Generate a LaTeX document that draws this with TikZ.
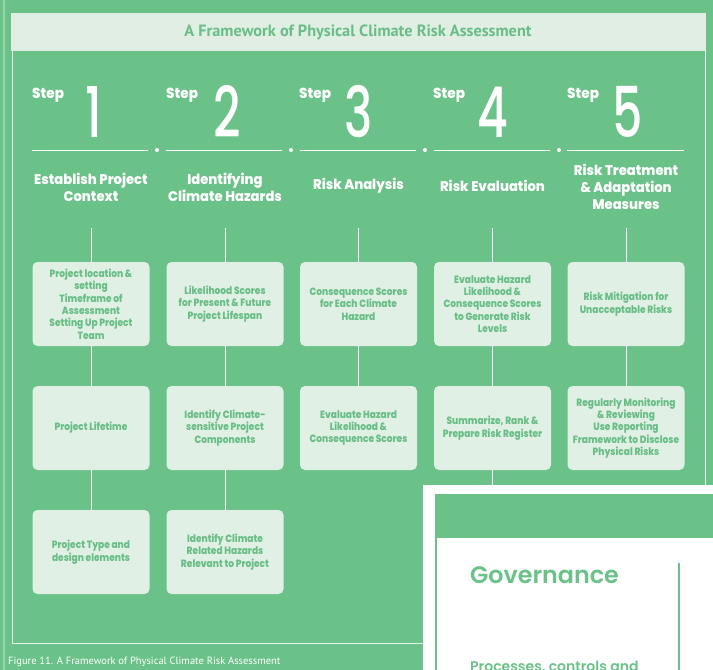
\documentclass[tikz,border=0pt]{standalone}
\usepackage{fontspec}
\setmainfont{Poppins}
\newfontfamily\heavyfont{Poppins ExtraBold}[FakeStretch=0.86]
\newfontfamily\headfont{Poppins ExtraBold}[FakeStretch=0.94]
\newfontfamily\digitfont{Poppins Medium}[FakeStretch=0.68]
\newfontfamily\govfont{Poppins SemiBold}
\newfontfamily\ptfont{PT Sans}
\definecolor{bggreen}{RGB}{106,194,136}
\definecolor{boxfill}{RGB}{225,240,228}
\definecolor{boxtext}{RGB}{104,190,134}
\definecolor{barfill}{RGB}{224,238,227}
\tikzset{
  stepbox/.style={rectangle, rounded corners=5pt, fill=boxfill, minimum width=117pt,
    minimum height=84pt, text=boxtext, align=center, inner sep=0pt,
    font=\heavyfont\fontsize{10.5}{12.4}\selectfont},
  headtext/.style={text=white, align=center, inner sep=0pt,
    font=\headfont\fontsize{14}{17}\selectfont},
  steplabel/.style={text=white, anchor=base west, inner sep=0pt,
    font=\headfont\fontsize{14.5}{14}\selectfont},
  digit/.style={text=white, anchor=base, inner sep=0pt,
    font=\digitfont\fontsize{70}{70}\selectfont},
  link/.style={draw=white, line width=0.8pt},
  rule/.style={draw=white, line width=1pt},
}
\begin{document}
\begin{tikzpicture}[x=1pt,y=-1pt]
\useasboundingbox (0,0) rectangle (713,670);
\clip (0,0) rectangle (713,670);
\fill[bggreen] (0,0) rectangle (713,670);
% faint page edge
\draw[white, opacity=0.3, line width=1.2pt] (4,0) -- (4,670);
% frame
\draw[white, opacity=0.85, line width=0.8pt] (12,13) rectangle (705.5,643);
\fill[barfill] (11,13) rectangle (706,51);
\node[text=boxtext, font=\ptfont\bfseries\fontsize{16.3}{16}\selectfont, inner sep=0pt] (title) at (358,32) {A Framework of Physical Climate Risk Assessment};

% steps
\foreach \n/\x/\sx in {1/94/32, 2/227/166, 3/359/299, 4/493/433, 5/628/567}{
  \node[steplabel] (s\n) at (\sx,98) {Step};
  \node[digit] (d\n) at (\x,137) {\n};
}
% rule with dots
\draw[rule] (32,150) -- (148,150);
\draw[rule] (166,150) -- (282,150);
\draw[rule] (300,150) -- (416,150);
\draw[rule] (434,150) -- (550,150);
\draw[rule] (567,150) -- (684,150);
\foreach \x in {157,291,425,559}{ \fill[white] (\x,150) circle (2pt); }

% headings
\node[headtext] (h1) at (91,187) {Establish Project\\Context};
\node[headtext] (h2) at (225,187) {Identifying\\Climate Hazards};
\node[headtext] (h3) at (358.5,186) {Risk Analysis};
\node[headtext] (h4) at (492.5,186) {Risk Evaluation};
\node[headtext] (h5) at (626,187) {Risk Treatment\\\& Adaptation\\Measures};

% boxes
\node[stepbox] (b11) at (91,304) {Project location \&\\setting\\Timeframe of\\Assessment\\Setting Up Project\\Team};
\node[stepbox] (b12) at (91,428) {Project Lifetime};
\node[stepbox] (b13) at (91,552) {Project Type and\\design elements};
\node[stepbox] (b21) at (225,304) {Likelihood Scores\\for Present \& Future\\Project Lifespan};
\node[stepbox] (b22) at (225,428) {Identify Climate-\\sensitive Project\\Components};
\node[stepbox] (b23) at (225,552) {Identify Climate\\Related Hazards\\Relevant to Project};
\node[stepbox] (b31) at (358.5,304) {Consequence Scores\\for Each Climate\\Hazard};
\node[stepbox] (b32) at (358.5,428) {Evaluate Hazard\\Likelihood \&\\Consequence Scores};
\node[stepbox] (b41) at (492.5,304) {Evaluate Hazard\\Likelihood \&\\Consequence Scores\\to Generate Risk\\Levels};
\node[stepbox] (b42) at (492.5,428) {Summarize, Rank \&\\Prepare Risk Register};
\node[stepbox] (b51) at (626,304) {Risk Mitigation for\\Unacceptable Risks};
\node[stepbox] (b52) at (626,428) {Regularly Monitoring\\\& Reviewing\\Use Reporting\\Framework to Disclose\\Physical Risks};

% connectors
\foreach \c/\x in {1/91,2/225,3/358.5,4/492.5,5/626}{
  \coordinate (t\c) at (\x,228);
  \draw[link] (t\c) -- (b\c1.north);
  \draw[link] (b\c1.south) -- (b\c2.north);
}
\draw[link] (b12.south) -- (b13.north);
\draw[link] (b22.south) -- (b23.north);
\coordinate (e4) at (492.5,500);
\draw[link] (b42.south) -- (e4);

% caption
\node[text=white, anchor=base west, inner sep=0pt, font=\ptfont\fontsize{10.5}{11}\selectfont] (cap) at (8,664) {Figure 11. A Framework of Physical Climate Risk Assessment};

% overlay page
\fill[white] (423,485) rectangle (713,670);
\fill[bggreen] (435,494) rectangle (713,538);
\draw[bggreen, line width=1.6pt] (435.8,494) -- (435.8,670);
\draw[bggreen, line width=1.2pt] (679,563) -- (679,670);
\node[text=bggreen, anchor=base west, inner sep=0pt, font=\govfont\fontsize{23.8}{24}\selectfont] (gov) at (470,583) {Governance};
\node[text=bggreen, anchor=base west, inner sep=0pt, font=\govfont\fontsize{14}{15}\selectfont] (proc) at (470,671) {Processes, controls and};
\end{tikzpicture}
\end{document}
